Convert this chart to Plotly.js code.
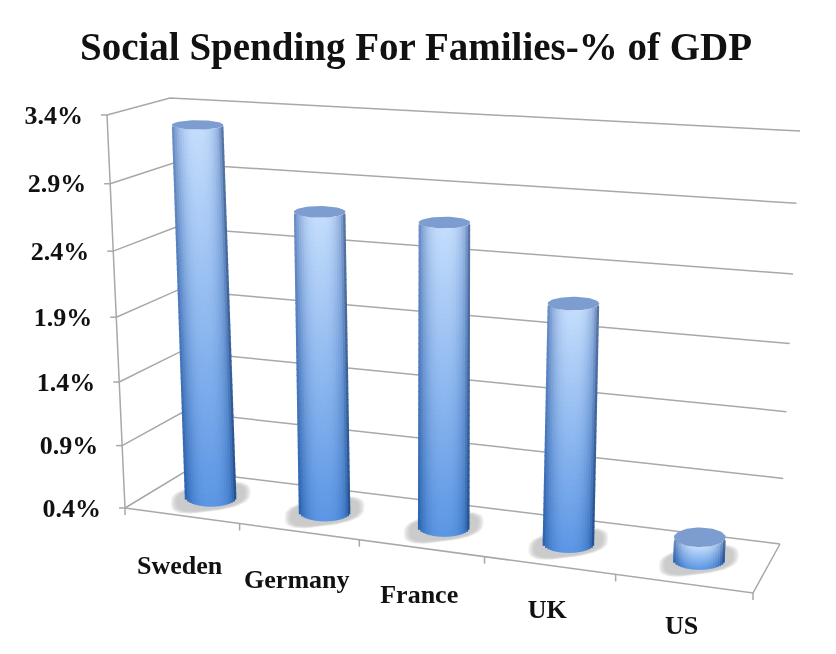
<!DOCTYPE html>
<html><head><meta charset="utf-8">
<script src="https://cdn.plot.ly/plotly-3.0.1.min.js"></script>
<style>html,body{margin:0;padding:0;background:#fff}#c{width:836px;height:654px;filter:blur(0.45px)}</style>
</head><body><div id="c"></div>
<script>
const categories = ["Sweden","Germany","France","UK","US"];
const values = [3.29,2.71,2.70,2.19,0.57];
const tickValues = [0.4,0.9,1.4,1.9,2.4,2.9,3.4];
const tickLabels = ["0.4%","0.9%","1.4%","1.9%","2.4%","2.9%","3.4%"];

const W=836,H=654;
const VMIN=0.4,VMAX=3.4;
// frame corners of the 3D box as seen in the picture
const FLb=[125,508],FLt=[107,115],BLb=[186,471],BLt=[170,98],FRb=[753,593],FRt=[775,158],BRb=[780,544],BRt=[800,131];
const lerp=(a,b,t)=>a+(b-a)*t;
const mix=(A,B,t)=>[lerp(A[0],B[0],t),lerp(A[1],B[1],t)];
const warpX=t=>t/(t+1.12*(1-t));
const warpV=n=>n/(n+1.06*(1-n));
function project(t,d,v){
  const s=warpX(t), m=warpV((v-VMIN)/(VMAX-VMIN));
  const bot=mix(mix(FLb,FRb,s),mix(BLb,BRb,s),d);
  const top=mix(mix(FLt,FRt,s),mix(BLt,BRt,s),d);
  return mix(bot,top,m);
}
const toY=p=>0.4+(510-p)/131.67;

const traces=[];
const GRID='#a8a8a8';
function line(pts,w){
  traces.push({type:'scatter',mode:'lines',x:pts.map(p=>p[0]),y:pts.map(p=>toY(p[1])),
    line:{color:GRID,width:w||1.5},hoverinfo:'skip',showlegend:false,xaxis:'x',yaxis:'y'});
}
// grid lines on side + back walls and ticks
tickValues.forEach(v=>{
  line([project(0,0,v),project(0,1,v),project(1,1,v)]);
  const a=project(0,0,v);
  line([[a[0]-6,a[1]],a]);
});
line([project(0,0,VMIN),project(0,0,VMAX)]);
line([project(0,0,VMIN),project(1,0,VMIN),project(1,1,VMIN)]);
for(let i=0;i<=categories.length;i++){
  const a=project(i/categories.length,0,VMIN);
  line([a,[a[0],a[1]+7]]);
}
// soft shadows on the floor
values.forEach((v,i)=>{
  const c=project((i+.5)/categories.length,.5,VMIN);
  [1,.97,.94,.91,.88,.85].forEach(k=>{
    const xs=[],ys=[];
    for(let a=0;a<=60;a++){
      const th=a/60*2*Math.PI,co=Math.cos(th),si=Math.sin(th);
      const ex=Math.sign(co)*Math.pow(Math.abs(co),.7)*40*k;
      const ey=Math.sign(si)*Math.pow(Math.abs(si),.7)*14*k;
      xs.push(c[0]+ex);ys.push(toY(c[1]+ey-0.14*ex+1));
    }
    traces.push({type:'scatter',mode:'lines',x:xs,y:ys,fill:'toself',fillcolor:'rgba(175,175,175,0.17)',
      line:{width:0,color:'rgba(0,0,0,0)'},hoverinfo:'skip',showlegend:false,xaxis:'x',yaxis:'y'});
  });
});
// cylinders: a single bar trace of thin shaded cells
const bx=[],by=[],bb=[],bw=[],bc=[];
const RX=25.8,STRIP=2.3,SEG=6,LAP=1;
const cTop=[196,221,252],cBot=[92,150,228],eTop=[94,130,190],eBot=[36,92,168];
const ryAt=v=>10-5.5*warpV((v-VMIN)/(VMAX-VMIN));
values.forEach((v,i)=>{
  const t=(i+.5)/categories.length;
  const b=project(t,.5,VMIN),a=project(t,.5,v);
  const rb=ryAt(VMIN),rt=ryAt(v);
  const n=Math.round(2*RX/STRIP);
  for(let j=0;j<n;j++){
    const u=(j+.5)/n*2-1;
    const arc=Math.sqrt(1-u*u);
    const g=Math.pow(1-Math.pow(Math.abs(u),2.6),.9);
    const yb=b[1]+rb*arc, yt=a[1]+rt*arc;
    const rows=Math.max(14,Math.round((yb-yt)/SEG));
    for(let r=0;r<rows;r++){
      const f0=r/rows,f1=(r+1)/rows,fm=(f0+f1)/2;
      const lapX=j<n-1?LAP:0, lapY=r<rows-1?LAP:0;
      const cx=lerp(b[0],a[0],fm)+u*RX+lapX/2;
      const p0=lerp(yb,yt,f0),p1=lerp(yb,yt,f1)-lapY;
      const k=u>.82?1-(u-.82)*1.3:1;
      const col=[0,1,2].map(q=>Math.round(lerp(lerp(eBot[q],cBot[q],g),lerp(eTop[q],cTop[q],g),fm)*k));
      bx.push(cx);bw.push(STRIP+lapX);bb.push(toY(p0));by.push(toY(p1)-toY(p0));bc.push(`rgb(${col})`);
    }
  }
});
traces.push({type:'bar',x:bx,y:by,base:bb,width:bw,marker:{color:bc,line:{width:0}},hoverinfo:'skip',showlegend:false,xaxis:'x2',yaxis:'y2'});
// top caps
values.forEach((v,i)=>{
  const a=project((i+.5)/categories.length,.5,v),rt=ryAt(v);
  const xs=[],ys=[];
  for(let q=0;q<=60;q++){const th=q/60*2*Math.PI;xs.push(a[0]+RX*Math.cos(th));ys.push(toY(a[1]+rt*Math.sin(th)));}
  traces.push({type:'scatter',mode:'lines',x:xs,y:ys,fill:'toself',fillcolor:'#7d9dd0',line:{width:0,color:'#7d9dd0'},hoverinfo:'skip',showlegend:false,xaxis:'x2',yaxis:'y2'});
});
// axis text
const FONT='"Liberation Serif",serif';
const bold=s=>'<b>'+s+'</b>';
const leftPts=tickValues.map(v=>project(0,0,v));
traces.push({type:'scatter',mode:'text',x:leftPts.map(p=>p[0]-24),y:leftPts.map(p=>toY(p[1]+2)),text:tickLabels.map(bold),
  textposition:'middle left',textfont:{family:FONT,size:26,color:'#111'},cliponaxis:false,hoverinfo:'skip',showlegend:false,xaxis:'x2',yaxis:'y2'});
const catPts=categories.map((c,i)=>project((i+.5)/categories.length,0,VMIN));
traces.push({type:'scatter',mode:'text',x:catPts.map(p=>p[0]-2),y:catPts.map((p,i)=>toY(p[1]+52-2*i)),text:categories.map(bold),
  textposition:'middle center',textfont:{family:FONT,size:26,color:'#111'},cliponaxis:false,hoverinfo:'skip',showlegend:false,xaxis:'x2',yaxis:'y2'});

const xr=[0,W],yr=[toY(H),toY(0)];
const hidden={visible:false,fixedrange:true};
const layout={width:W,height:H,margin:{l:0,r:0,t:0,b:0},paper_bgcolor:'#fff',plot_bgcolor:'#fff',showlegend:false,barmode:'overlay',
  title:{text:'<b>Social Spending For Families-% of GDP</b>',font:{family:FONT,size:39,color:'#111'},x:416/W,xanchor:'center',y:1-46/H,yanchor:'middle'},
  xaxis:{...hidden,range:xr},yaxis:{...hidden,range:yr},
  xaxis2:{...hidden,range:xr,overlaying:'x'},yaxis2:{...hidden,range:yr,overlaying:'y'}};
Plotly.newPlot('c',traces,layout,{staticPlot:true,displayModeBar:false});
</script></body></html>
